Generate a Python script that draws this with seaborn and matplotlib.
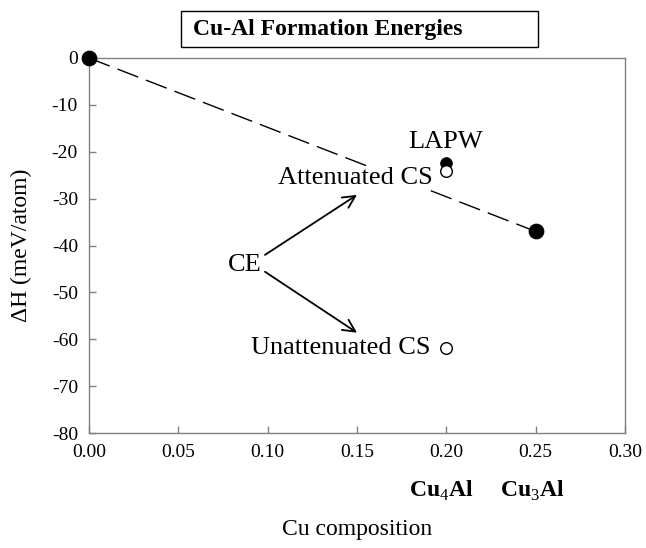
import numpy as np
import matplotlib
matplotlib.use("Agg")
import matplotlib.pyplot as plt
import matplotlib.patches as patches
import seaborn as sns

# formation energies (meV/atom) vs Cu composition
hull_comp = [0.00, 0.25]
hull_dH = [0.0, -37.0]

lapw_comp = [0.20]
lapw_dH = [-22.4]

att_comp = [0.20]
att_dH = [-24.0]

unatt_comp = [0.20]
unatt_dH = [-61.8]

xticks = [0.00, 0.05, 0.10, 0.15, 0.20, 0.25, 0.30]
yticks = [-80, -70, -60, -50, -40, -30, -20, -10, 0]
phase_labels = ["Cu$_4$Al", "Cu$_3$Al"]
phase_pos = [0.197, 0.248]

sns.set_style("ticks")
plt.rcParams['font.family'] = ['Liberation Serif', 'DejaVu Serif']
plt.rcParams['mathtext.fontset'] = 'custom'
plt.rcParams['mathtext.rm'] = 'Liberation Serif'
plt.rcParams['mathtext.bf'] = 'Liberation Serif:bold'
plt.rcParams['axes.unicode_minus'] = False
plt.rcParams['text.color'] = 'black'
plt.rcParams['axes.labelcolor'] = 'black'

fig = plt.figure(figsize=(6.46, 5.48), dpi=100)
ax = fig.add_axes([89 / 646, 1 - 433 / 548, 536 / 646, 375 / 548])

sns.lineplot(x=hull_comp, y=hull_dH, ax=ax, color="black", linewidth=1.0, zorder=2)
ax.lines[-1].set_linestyle((0, (16, 6)))
sns.scatterplot(x=hull_comp, y=hull_dH, ax=ax, color="black", s=110,
                edgecolor="black", zorder=4, clip_on=False)
sns.scatterplot(x=lapw_comp, y=lapw_dH, ax=ax, color="black", s=70,
                edgecolor="black", zorder=3)
sns.scatterplot(x=att_comp, y=att_dH, ax=ax, color="white", s=70,
                edgecolor="black", linewidth=1.0, zorder=4)
sns.scatterplot(x=unatt_comp, y=unatt_dH, ax=ax, color="white", s=70,
                edgecolor="black", linewidth=1.0, zorder=4)

ax.set_xlim(0, 0.30)
ax.set_ylim(-80, 0)
ax.set_xticks(xticks)
ax.set_xticklabels([f"{t:.2f}" for t in xticks])
ax.set_yticks(yticks)
ax.set_yticklabels([str(t) for t in yticks])
ax.tick_params(direction="in", length=5, width=1, color="#808080",
               labelcolor="black", labelsize=14, pad=8, top=False, right=False)
for s in ax.spines.values():
    s.set_color("#808080")
    s.set_linewidth(1.0)
    s.set_visible(True)

ax.set_ylabel("ΔH (meV/atom)", fontsize=17)
ax.yaxis.set_label_coords(-0.106, 0.5)
fig.text(357 / 646, 1 - 530 / 548, "Cu composition", fontsize=17,
         ha="center", va="center")

# annotations
ax.text(0.1993, -17.9, "LAPW", fontsize=19, ha="center", va="center")
ax.text(0.1926, -25.6, "Attenuated CS", fontsize=19, ha="right", va="center",
        bbox=dict(facecolor="white", edgecolor="none", pad=0), zorder=3)
ax.text(0.191, -61.8, "Unattenuated CS", fontsize=19, ha="right", va="center")
ax.text(0.087, -44.1, "CE", fontsize=19, ha="center", va="center")
arrow = dict(arrowstyle="->", color="black", lw=1.3, mutation_scale=22,
             shrinkA=0, shrinkB=0)
ax.annotate("", xy=(0.150, -29.2), xytext=(0.0985, -42.0), arrowprops=arrow)
ax.annotate("", xy=(0.150, -58.6), xytext=(0.0985, -45.6), arrowprops=arrow)

# phase names under the axis
for lab, xp in zip(phase_labels, phase_pos):
    ax.text(xp, -0.155, lab, transform=ax.get_xaxis_transform(), fontsize=17,
            fontweight="bold", ha="center", va="center")

# boxed title
fig.patches.append(patches.Rectangle((181 / 646, 1 - 47 / 548), 357 / 646, 36 / 548,
                                     transform=fig.transFigure, fill=False,
                                     edgecolor="black", linewidth=1.0))
fig.text(193 / 646, 1 - 29 / 548, "Cu-Al Formation Energies", fontsize=17,
         fontweight="bold", ha="left", va="center")

fig.savefig("out.png", dpi=100)
